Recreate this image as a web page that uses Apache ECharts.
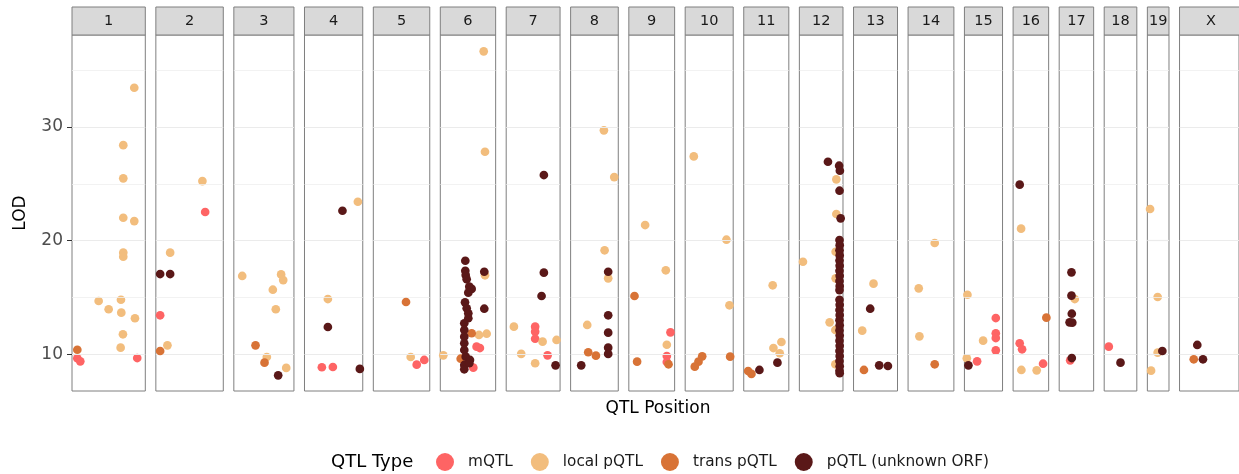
<!DOCTYPE html>
<html><head><meta charset="utf-8">
<script src="https://cdn.jsdelivr.net/npm/echarts@6/dist/echarts.min.js"></script>
<style>html,body{margin:0;padding:0;background:#fff}#c{width:1239px;height:474px}</style>
</head><body><div id="c"></div>
<script>
// ---- data ----
const chromosomes = ["1","2","3","4","5","6","7","8","9","10","11","12","13","14","15","16","17","18","19","X"];
const chrLengthMb = [200,184,164,159,154,151,147,130,125,131,123,119,120,125,104,97,94,89,59,171];
const yMajorTicks = [10,20,30];
const yMinorTicks = [15,25,35];
const typeNames = ["mQTL","local pQTL","trans pQTL","pQTL (unknown ORF)"];

// [chromosome, position (Mb), LOD]
const mQTL = [
 ["1",14.5,9.65],["1",22.6,9.38],["1",178,9.67],
 ["2",11.7,13.43],["2",134.6,22.52],
 ["4",47.4,8.86],["4",77.4,8.88],
 ["5",118.4,9.09],["5",139,9.5],
 ["6",99,10.67],["6",108,10.55],["6",90,8.82],
 ["7",79,12.43],["7",79,11.99],["7",79,11.37],["7",112.9,9.91],
 ["9",113.7,11.93],["9",103.7,9.85],["9",103.7,9.32],
 ["15",85.6,13.19],["15",85.6,11.85],["15",85.6,11.43],["15",85.6,10.35],["15",34.6,9.38],
 ["16",18,10.97],["16",24.5,10.44],["16",81.8,9.17],
 ["17",30,9.47],
 ["18",12.5,10.67]
];
const localPQTL = [
 ["1",72.7,14.69],["1",100,13.96],["1",133.6,14.8],["1",134.5,13.66],["1",139,11.76],["1",132.7,10.58],
 ["1",139.9,28.4],["1",139.9,25.48],["1",139.9,22.01],["1",169.9,21.72],["1",139.9,18.94],["1",139.9,18.58],
 ["1",169.9,33.45],["1",171.8,13.17],
 ["2",39,18.94],["2",31.6,10.79],["2",127,25.24],
 ["3",22.9,16.89],["3",129,17.03],["3",134.7,16.53],["3",106.4,15.68],["3",114.5,13.96],["3",90,9.76],["3",142.9,8.8],
 ["4",145.6,23.42],["4",63.8,14.86],
 ["5",102,9.76],
 ["6",118.4,36.65],["6",121.9,27.82],["6",122,16.95],["6",126.5,11.81],["6",105.5,11.7],["6",8.2,9.91],
 ["7",21,12.43],["7",99.3,11.11],["7",137.4,11.26],["7",41,10.03],["7",79,9.21],
 ["8",45.3,12.58],["8",90.8,29.7],["8",119,25.59],["8",92.7,19.15],["8",102.5,16.68],
 ["9",44.5,21.37],["9",100.9,17.39],["9",103.7,10.84],
 ["10",23.5,27.41],["10",112.6,20.08],["10",120.8,14.31],
 ["11",79,16.07],["11",102.8,11.08],["11",81,10.55],["11",98.2,10.09],
 ["12",9.8,18.14],["12",100.9,25.39],["12",100.9,22.34],["12",99,19.02],["12",99,16.68],["12",82.6,12.81],["12",98.2,12.14],["12",98.2,9.12],
 ["13",54.5,16.21],["13",23.7,12.08],
 ["14",72.7,19.79],["14",29.1,15.8],["14",30.9,11.58],
 ["15",8.2,15.24],["15",51,11.2],["15",6.5,9.65],
 ["16",21.8,21.05],["16",22.6,8.62],["16",64.4,8.59],
 ["17",42.5,14.86],
 ["19",7.4,22.78],["19",28.1,15.04],["19",28.1,10.14],["19",10.1,8.56]
];
const transPQTL = [
 ["1",14.5,10.4],
 ["2",11.7,10.29],
 ["3",59.2,10.79],["3",83.7,9.26],
 ["5",89.2,14.6],
 ["6",85.6,11.85],["6",55.6,9.61],
 ["8",48,10.18],["8",69,9.88],
 ["9",15.5,15.13],["9",22.6,9.35],["9",108.3,9.12],
 ["10",46.4,9.82],["10",36.3,9.35],["10",26.2,8.91],["10",122.7,9.79],
 ["11",12,8.53],["11",21,8.27],
 ["13",28.4,8.62],
 ["14",72.7,9.12],
 ["16",90.8,13.22],
 ["X",40.9,9.56]
];
const unknownPQTL = [
 ["2",11.7,17.06],["2",39,17.06],
 ["3",121,8.15],
 ["4",103.6,22.63],["4",63.8,12.4],["4",151,8.71],
 ["6",120,17.26],["6",120,14.01],["6",68.2,18.23],["6",68.2,17.35],["6",69.3,16.97],["6",72,16.6],["6",79.1,15.95],
 ["6",85.6,15.75],["6",76.4,15.42],["6",67.4,14.57],["6",72,14.05],["6",76.4,13.6],["6",76.4,13.17],["6",65.4,12.73],
 ["6",65.4,12.14],["6",65.4,11.55],["6",65.4,10.97],["6",65.4,10.38],["6",69.3,9.79],["6",81,9.5],["6",65.4,9.06],
 ["6",65.4,8.68],["6",79.1,9.21],
 ["7",102.8,25.77],["7",102.8,17.18],["7",96.5,15.13],["7",134.7,9.03],
 ["8",28.9,9.03],["8",102.5,17.26],["8",102.5,13.43],["8",102.5,11.9],["8",102.5,10.58],["8",102.5,10.03],
 ["11",91.9,9.26],["11",42.8,8.62],
 ["12",78,26.94],["12",108.5,26.59],["12",110.5,26.15],["12",109.6,24.39],["12",112.6,21.96],
 ["12",109.5,20.05],["12",110,19.6],["12",109.5,19.15],["12",110,18.7],["12",109.5,18.25],["12",110,17.8],
 ["12",109.5,17.35],["12",110,16.9],["12",109.5,16.45],["12",110,16.0],["12",109.5,15.65],
 ["12",109.5,14.79],["12",110,14.35],["12",109.5,13.9],["12",110,13.45],["12",109.5,13.0],["12",110,12.55],
 ["12",109.5,12.1],["12",110,11.65],["12",109.5,11.2],["12",110,10.75],["12",109.5,10.3],["12",110,9.85],
 ["12",109.5,9.4],["12",110,8.95],["12",109.5,8.55],["12",110,8.33],
 ["13",45.5,14.01],["13",70,9.03],["13",93.8,8.97],
 ["15",10.9,9.03],
 ["16",18,24.92],
 ["17",33.5,17.21],["17",33.5,15.16],["17",34.4,13.57],["17",28.4,12.81],["17",35.7,12.78],["17",34.4,9.67],
 ["18",44.5,9.26],
 ["19",40.9,10.29],
 ["X",51,10.82],["X",67.4,9.56]
];

// ---- styling / layout ----
const typeData = [mQTL, localPQTL, transPQTL, unknownPQTL];
const typeColors = ["#FE6464", "#F2BD7D", "#D87336", "#5A1818"];
const yMin = 6.77, yMax = 38.09;
const plotLeft = 72, panelTop = 35, panelBottom = 391, stripTop = 7;
const gap = 10.55, pxPerMb = 0.3665;
const borderColor = "#7F7F7F";
const FONT = "DejaVu Sans";

const lefts = [], widths = [];
let cur = plotLeft;
chrLengthMb.forEach(L => { lefts.push(cur); const w = L * pxPerMb; widths.push(w); cur += w + gap; });

const grid = [], xAxis = [], yAxis = [], series = [], graphic = [];
chromosomes.forEach((chr, i) => {
  grid.push({left: lefts[i], top: panelTop, width: widths[i], height: panelBottom - panelTop,
    show: true, borderColor: borderColor, borderWidth: 1, backgroundColor: "#fff"});
  xAxis.push({type: "value", gridIndex: i, min: 0, max: chrLengthMb[i], show: false});
  yAxis.push({type: "value", gridIndex: i, min: yMin, max: yMax,
    splitLine: {show: false}, axisLine: {show: false},
    axisTick: {show: i === 0, customValues: yMajorTicks, length: 5, lineStyle: {color: "#333", width: 1}},
    axisLabel: {show: i === 0, customValues: yMajorTicks, fontSize: 17, color: "#4D4D4D", margin: 9, fontFamily: FONT},
    name: i === 0 ? "LOD" : "", nameLocation: "middle", nameGap: 43,
    nameTextStyle: {fontSize: 17, color: "#000", fontFamily: FONT}});
  series.push({type: "line", xAxisIndex: i, yAxisIndex: i, data: [], silent: true, z: 1,
    markLine: {silent: true, symbol: ["none", "none"], label: {show: false}, animation: false,
      data: yMajorTicks.map(v => ({yAxis: v, lineStyle: {color: "#EBEBEB", width: 1.2, type: "solid"}}))
        .concat(yMinorTicks.map(v => ({yAxis: v, lineStyle: {color: "#EFEFEF", width: 0.8, type: "solid"}})))}});
  graphic.push({type: "rect", shape: {x: lefts[i], y: stripTop, width: widths[i], height: panelTop - stripTop},
    style: {fill: "#D9D9D9", stroke: borderColor, lineWidth: 1}, z: 10});
  graphic.push({type: "text", x: lefts[i] + widths[i] / 2, y: (stripTop + panelTop) / 2 + 0.5,
    style: {text: chr, fill: "#1A1A1A", font: "14.5px '" + FONT + "'", textAlign: "center", textVerticalAlign: "middle"}, z: 11});
});

typeData.forEach((arr, t) => {
  chromosomes.forEach((chr, i) => {
    series.push({type: "scatter", name: typeNames[t], xAxisIndex: i, yAxisIndex: i, clip: true,
      symbol: "circle", symbolSize: 8.7, z: 3 + t,
      itemStyle: {color: typeColors[t], opacity: 1},
      data: arr.filter(d => d[0] === chr).map(d => [d[1], d[2]])});
  });
});

graphic.push({type: "text", x: 658, y: 409,
  style: {text: "QTL Position", fill: "#000", font: "17px '" + FONT + "'", textAlign: "center", textVerticalAlign: "middle"}});
graphic.push({type: "text", x: 331, y: 462,
  style: {text: "QTL Type", fill: "#000", font: "18px '" + FONT + "'", textAlign: "left", textVerticalAlign: "middle"}});

const chart = echarts.init(document.getElementById("c"), null, {renderer: "canvas"});
chart.setOption({
  animation: false,
  textStyle: {fontFamily: FONT},
  grid, xAxis, yAxis, series, graphic,
  legend: {data: typeNames, selectedMode: false, icon: "circle", itemWidth: 18, itemHeight: 18, itemGap: 18,
    left: 436, top: 453, padding: 0, orient: "horizontal",
    textStyle: {fontSize: 15.3, color: "#1A1A1A", fontFamily: FONT, padding: [0, 0, 0, 9]}}
});
</script></body></html>
